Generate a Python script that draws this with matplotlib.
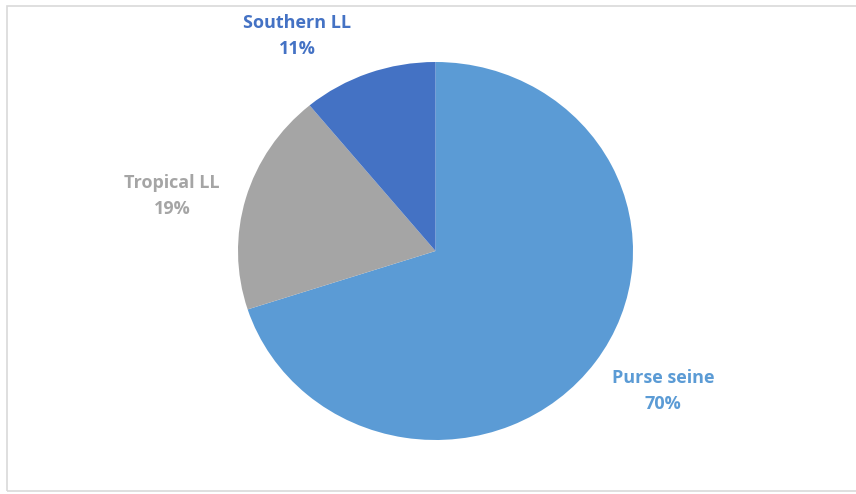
import matplotlib.pyplot as plt
import matplotlib.patches as pat

labels = ["Purse seine", "Tropical LL", "Southern LL"]
shares = [70, 19, 11]
colors = ["#5B9BD5", "#A5A5A5", "#4472C4"]
label_pos = [(663, 391), (172, 196), (297, 36)]

W, H = 856, 494
fig = plt.figure(figsize=(W / 100, H / 100), dpi=100)

# pie drawn slightly wider than tall, like the source image
pax = fig.add_axes([238 / W, (H - 440) / H, 395 / W, 378 / H])
pax.pie(shares, colors=colors, startangle=90, counterclock=False,
        radius=1, wedgeprops=dict(linewidth=0))
pax.set_aspect("auto")
pax.set_xlim(-1, 1)
pax.set_ylim(-1, 1)
pax.axis("off")

tax = fig.add_axes([0, 0, 1, 1])
tax.set_xlim(0, W)
tax.set_ylim(H, 0)
tax.axis("off")
for lab, s, c, (x, y) in zip(labels, shares, colors, label_pos):
    tax.text(x, y, f"{lab}\n{s}%", color=c, ha="center", va="center",
             fontsize=13, fontweight="bold", family="Open Sans",
             linespacing=1.55)

# chart border
fig.patches.append(pat.Rectangle((7 / W, 3 / H), 860 / W, 485 / H,
                                 transform=fig.transFigure, fill=False,
                                 edgecolor="#D9D9D9", linewidth=1.2))

fig.savefig("out.png", dpi=100)
